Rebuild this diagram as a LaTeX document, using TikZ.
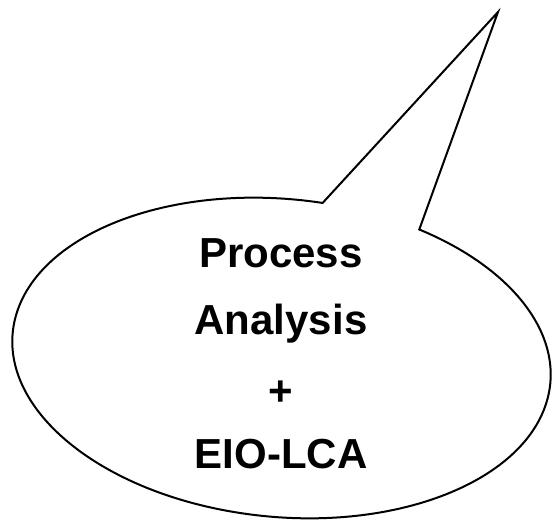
\documentclass[tikz,border=0pt]{standalone}
\usepackage{fontspec}
\setmainfont{Liberation Sans}
\begin{document}
\begin{tikzpicture}[x=1pt,y=1pt,
  bubble/.style={draw=black, line width=2pt, line join=miter, fill=white},
  label/.style={font=\fontsize{42}{50}\selectfont\bfseries, inner sep=0pt, anchor=base}]
\useasboundingbox (0,0) rectangle (553,519);
\coordinate (tip) at (498,507);
\begin{scope}[shift={(281.5,161)}, rotate=-5.4]
  \draw[bubble] (tip) -- (84.4:270pt and 159pt)
    arc[start angle=84.4, end angle=422.4, x radius=270pt, y radius=159pt] -- cycle;
\end{scope}
\node[label] (l1) at (281,251) {Process};
\node[label] (l2) at (281,184) {Analysis};
\node[label, anchor=center] (l3) at (281,126) {+};
\node[label] (l4) at (281,51) {EIO-LCA};
\end{tikzpicture}
\end{document}
